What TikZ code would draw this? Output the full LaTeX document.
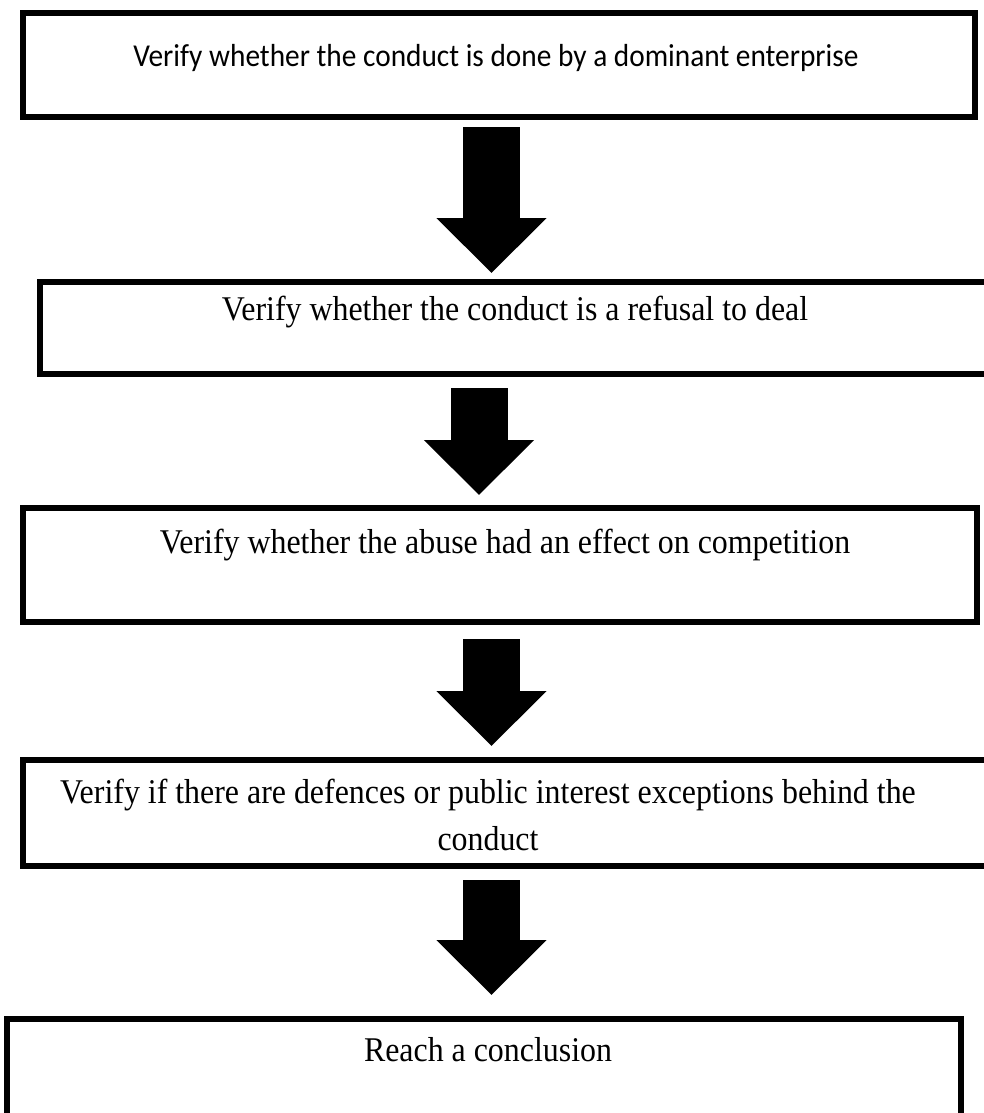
\documentclass[tikz,border=0pt]{standalone}
\usepackage{fontspec}
\setmainfont[FakeStretch=0.92]{Liberation Serif}
\newfontfamily\calibrifont[FakeStretch=0.92]{Carlito}
\usetikzlibrary{arrows.meta,calc}

\tikzset{
  stepbox/.style={draw, line width=5.5bp, inner sep=0pt, outer sep=0pt},
  steptext/.style={font=\fontsize{34.8}{47}\selectfont, align=center, inner sep=0pt},
  flowarrow/.style={line width=57bp, -{Triangle[width=107bp,length=55bp]}},
}

\begin{document}
\begin{tikzpicture}[x=1bp,y=-1bp]
  \useasboundingbox (0,0) rectangle (984,1113);
  \clip (0,0) rectangle (984,1113);
  \coordinate (spine) at (491.5,0);
  \coordinate (spine2) at (479,0);

  % the five steps
  \node[stepbox, minimum width=952bp, minimum height=104bp] (b1) at (499,65) {};
  \node[stepbox, minimum width=960bp, minimum height=92bp] (b2) at (520,328) {};
  \node[stepbox, minimum width=954bp, minimum height=114bp] (b3) at (500,565) {};
  \node[stepbox, minimum width=977bp, minimum height=106bp] (b4) at (511.5,813) {};
  \node[stepbox, minimum width=954bp, minimum height=121bp] (b5) at (484,1079.5) {};

  \node[steptext, font=\calibrifont\fontsize{32}{38}\selectfont] (t1) at (496,58) {Verify whether the conduct is done by a dominant enterprise};
  \node[steptext] (t2) at (515,312) {Verify whether the conduct is a refusal to deal};
  \node[steptext] (t3) at (505,545) {Verify whether the abuse had an effect on competition};
  \node[steptext] (t4) at (488,815) {Verify if there are defences or public interest exceptions behind the\\conduct};
  \node[steptext] (t5) at (488,1050) {Reach a conclusion};

  % block arrows between the steps
  \draw[flowarrow, shorten <=10bp, shorten >=9bp] (b1.south -| spine) -- (b2.north -| spine);
  \draw[flowarrow, shorten <=14bp, shorten >=13bp] (b2.south -| spine2) -- (b3.north -| spine2);
  \draw[flowarrow, shorten <=17bp, shorten >=14bp] (b3.south -| spine) -- (b4.north -| spine);
  \draw[flowarrow, shorten <=14bp, shorten >=24bp] (b4.south -| spine) -- (b5.north -| spine);
\end{tikzpicture}
\end{document}
